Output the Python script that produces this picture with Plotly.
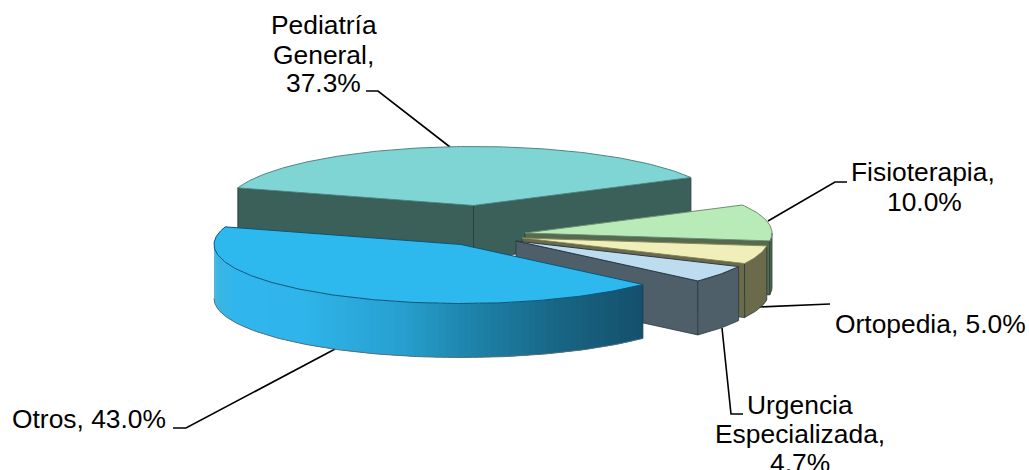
import math
import plotly.graph_objects as go

categories = ["Pediatría General", "Fisioterapia", "Ortopedia", "Urgencia Especializada", "Otros"]
values = [37.3, 10.0, 5.0, 4.7, 43.0]

W, H = 1029, 470
RX, RY, DEPTH = 247, 59, 54
START = 162.6
CENTERS = [(473.5, 205.5), (525, 233), (522, 238), (516, 241), (461, 244.5)]
TOPS = ["#7fd5d3", "#b9ebb9", "#f0eeb9", "#bddcf0", "#2db8ee"]
WALLS = ["#3b5f59", "#566a50", "#6b6a4b", "#4f5f6a", "#2db8ee"]
EDGES = ["#4f8583", "#6f8f70", "#8a8a60", "#2b3a44", "#0c5478"]
WALL_EDGE = "#263c3a"
GRADIENT = [(214, "#3fb6dd"), (235, "#30b6ec"), (300, "#2fb5eb"), (400, "#27a0cf"),
            (480, "#1d80a6"), (560, "#186584"), (643, "#14506c")]


def pt(c, deg, dz=0):
    r = math.radians(deg)
    return c[0] + RX * math.cos(r), c[1] - RY * math.sin(r) + dz


def arc(c, a, b, dz=0):
    n = max(2, int(abs(a - b)) + 2)
    return [pt(c, a + (b - a) * i / (n - 1), dz) for i in range(n)]


def hex_mix(x):
    for (x0, c0), (x1, c1) in zip(GRADIENT, GRADIENT[1:]):
        if x <= x1:
            f = max(0.0, (x - x0) / (x1 - x0))
            rgb = [round(int(c0[i:i + 2], 16) * (1 - f) + int(c1[i:i + 2], 16) * f) for i in (1, 3, 5)]
            return "rgb(%d,%d,%d)" % tuple(rgb)
    return GRADIENT[-1][1]


fig = go.Figure()


def poly(points, fill, line, width=1.0):
    xs = [p[0] for p in points] + [points[0][0]]
    ys = [p[1] for p in points] + [points[0][1]]
    fig.add_trace(go.Scatter(x=xs, y=ys, mode="lines", fill="toself", fillcolor=fill,
                             line=dict(color=line, width=width), hoverinfo="skip", showlegend=False))


# slice angle limits come from the values
total = sum(values)
angles = []
a = START
for v in values:
    b = a - v / total * 360
    angles.append((a, b))
    a = b

# leader lines are under the pie
LEADERS = [
    ([366, 378, 450], [91, 91, 147]),
    ([847, 835, 768], [182, 182, 221]),
    ([830, 759], [304, 307]),
    ([743, 731, 722], [414, 414, 328]),
    ([173, 186, 337], [428, 428, 348]),
]
for lx, ly in LEADERS:
    fig.add_trace(go.Scatter(x=lx, y=ly, mode="lines", line=dict(color="#000000", width=1.6),
                             hoverinfo="skip", showlegend=False))

for i, (c, (a0, a1)) in enumerate(zip(CENTERS, angles)):
    if i < 4:
        # straight cut walls that look towards the viewer
        cuts = [a0, a1] if i == 0 else [a1]
        for cut in cuts:
            rim = pt(c, cut)
            poly([c, rim, (rim[0], rim[1] + DEPTH), (c[0], c[1] + DEPTH)], WALLS[i], WALL_EDGE, 0.8)
        # curved outer wall, front half only
        lo, hi = a1, min(a0, 0)
        if hi > lo:
            poly(arc(c, hi, lo) + arc(c, lo, hi, DEPTH), WALLS[i], WALL_EDGE, 0.8)
    else:
        # shaded outer wall, overlapping strips so no seams appear
        hi, lo = a0, -180
        d = hi
        while d > lo:
            e = max(d - 1.5, lo)
            e2 = min(d, max(e - 1.0, lo))
            p = arc(c, d, e2) + arc(c, e2, d, DEPTH)
            col = hex_mix(pt(c, (d + e) / 2)[0])
            poly(p, col, col, 0)
            d = e
        low = arc(c, hi, lo, DEPTH)
        fig.add_trace(go.Scatter(x=[p[0] for p in low], y=[p[1] for p in low],
                                 mode="lines", line=dict(color="#54707c", width=1),
                                 hoverinfo="skip", showlegend=False))
        r1, r2 = pt(c, hi), pt(c, hi, DEPTH)
        fig.add_trace(go.Scatter(x=[r1[0], r2[0]], y=[r1[1], r2[1]], mode="lines",
                                 line=dict(color="#0f3f58", width=1), hoverinfo="skip", showlegend=False))
    poly([c] + arc(c, a0, a1), TOPS[i], EDGES[i], 1.0)

LABELS = [
    ("Pediatría", 324, 25), ("General,", 323, 55), ("37.3%", 323, 83),
    ("Fisioterapia,", 923, 172), ("10.0%", 924, 202),
    ("Ortopedia, 5.0%", 930, 324),
    ("Urgencia", 800, 405), ("Especializada,", 800, 434), ("4.7%", 800, 463),
    ("Otros, 43.0%", 89, 419),
]
annotations = [dict(x=x, y=y, xref="x", yref="y", text=t, showarrow=False, xanchor="center",
                    yanchor="middle", font=dict(family="Liberation Sans", size=26.4, color="#000000"))
               for t, x, y in LABELS]

fig.update_layout(
    width=W, height=H, margin=dict(l=0, r=0, t=0, b=0),
    paper_bgcolor="#ffffff", plot_bgcolor="#ffffff", showlegend=False,
    xaxis=dict(range=[0, W], visible=False, fixedrange=True),
    yaxis=dict(range=[H, 0], visible=False, fixedrange=True),
    annotations=annotations,
)
fig.write_html("out.html", config=dict(displayModeBar=False),
               post_script="document.body.style.margin='0';document.body.style.overflow='hidden';")
